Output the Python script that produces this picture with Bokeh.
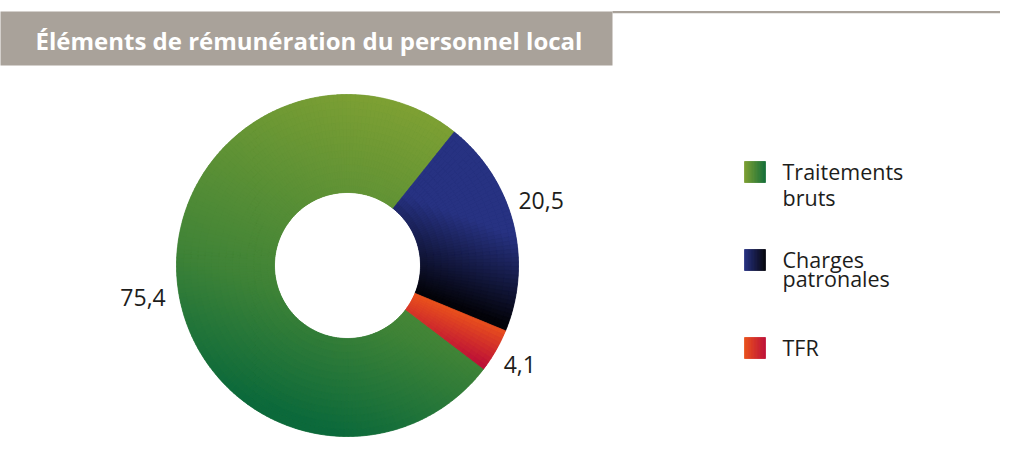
import math
import numpy as np
from bokeh.plotting import figure
from bokeh.models import Range1d, ColumnDataSource
from bokeh.core.properties import value
from bokeh.embed import file_html
from bokeh.resources import INLINE

# ---------------- data ----------------
title = "Éléments de rémunération du personnel local"
categories = ["Traitements bruts", "Charges patronales", "TFR"]
legend_lines = [["Traitements", "bruts"], ["Charges", "patronales"], ["TFR"]]
values = [75.4, 20.5, 4.1]
value_labels = ["75,4", "20,5", "4,1"]

# gradient stops for each slice (position along gradient axis, colour)
grad_stops = [
    [(-56, "#82a233"), (172, "#3f8337"), (287, "#0b693b")],
    [(40, "#273282"), (126, "#030308")],
    [(130, "#ea521c"), (172, "#bc1037")],
]
legend_grad = [("#7fa032", "#17703a"), ("#273284", "#07070f"), ("#ea521c", "#be1238")]

# ---------------- layout ----------------
W, H = 1000, 447


def py(y_page):
    return H - y_page


CX, CY = 347, 265          # pixel coords of donut centre
R_OUT, R_IN = 171, 73
FIRST_ANGLE = 127.2        # degrees clockwise from 12 o'clock
UX, UY = -0.351, 0.936     # gradient axis (pixel coords)
FONT = "Open Sans"
TXT = "#1d1d1b"
GREY = "#a9a29a"
BASE_SHIFT = 8             # renderer draws alphabetic baseline lower
LABEL_NUDGE = [(-4, 7), (-2, -15), (-3, -1)]


def hex2rgb(h):
    h = h.lstrip("#")
    return np.array([int(h[i:i + 2], 16) for i in (0, 2, 4)], dtype=float)


def rgb2hex(c):
    c = np.clip(np.round(c), 0, 255).astype(int)
    return "#%02x%02x%02x" % tuple(c)


def grad_color(stops, t):
    ts = [s[0] for s in stops]
    cs = np.array([hex2rgb(s[1]) for s in stops])
    return rgb2hex([np.interp(t, ts, cs[:, k]) for k in range(3)])


p = figure(width=W, height=H, output_backend="svg", toolbar_location=None,
           x_range=Range1d(0, W), y_range=Range1d(0, H),
           min_border=0, min_border_left=0, min_border_right=0,
           min_border_top=0, min_border_bottom=0)
p.axis.visible = False
p.grid.visible = False
p.outline_line_color = None
p.background_fill_color = "white"
p.border_fill_color = "white"

# ---- header banner and rule ----
p.quad(left=[-2], right=[612], top=[py(11)], bottom=[py(65)],
       fill_color=GREY, line_color=None)
p.quad(left=[612], right=[W + 10], top=[py(10.5)], bottom=[py(12.8)],
       fill_color=GREY, line_color=None)
p.text(x=[35], y=[py(48 - BASE_SHIFT)], text=[title], text_color="white",
       text_font=value(FONT), text_font_style="bold", text_font_size="24px",
       text_baseline="alphabetic", text_align="left")

# ---- donut ----
total = sum(values)
bounds = []
a = FIRST_ANGLE
for v in values:
    span = v / total * 360.0
    bounds.append((a, a + span))
    a += span

cells = dict(x=[], y=[], s=[], e=[], ri=[], ro=[], c=[])
base = dict(x=[], y=[], s=[], e=[], c=[])
N_R = 14
STEP = 1.5
for i, (a0, a1) in enumerate(bounds):
    stops = grad_stops[i]
    base["x"].append(CX)
    base["y"].append(py(CY))
    base["s"].append(math.radians(90 - a0))
    base["e"].append(math.radians(90 - a1))
    base["c"].append(grad_color(stops, (stops[0][0] + stops[-1][0]) / 2))
    n_a = max(1, int(math.ceil((a1 - a0) / STEP)))
    edges = np.linspace(a0, a1, n_a + 1)
    redges = np.linspace(R_IN, R_OUT, N_R + 1)
    for j in range(n_a):
        th = math.radians((edges[j] + edges[j + 1]) / 2)
        for k in range(N_R):
            rm = (redges[k] + redges[k + 1]) / 2
            xp = CX + rm * math.sin(th)
            yp = CY - rm * math.cos(th)
            t = UX * xp + UY * yp
            cells["x"].append(CX)
            cells["y"].append(py(CY))
            cells["s"].append(math.radians(90 - edges[j]))
            cells["e"].append(math.radians(90 - edges[j + 1]))
            cells["ri"].append(redges[k])
            cells["ro"].append(redges[k + 1])
            cells["c"].append(grad_color(stops, t))

p.annular_wedge(x="x", y="y", inner_radius=R_IN, outer_radius=R_OUT,
                start_angle="s", end_angle="e", direction="clock",
                fill_color="c", line_color=None, source=ColumnDataSource(base))
p.annular_wedge(x="x", y="y", inner_radius="ri", outer_radius="ro",
                start_angle="s", end_angle="e", direction="clock",
                fill_color="c", line_color="c", line_width=0.7,
                source=ColumnDataSource(cells))

# ---- value labels ----
R_LAB = 202
lx, ly = [], []
for i, (a0, a1) in enumerate(bounds):
    th = math.radians((a0 + a1) / 2)
    lx.append(CX + R_LAB * math.sin(th) + LABEL_NUDGE[i][0])
    ly.append(py(CY - R_LAB * math.cos(th) + LABEL_NUDGE[i][1]))
p.text(x=lx, y=ly, text=value_labels, text_color=TXT, text_font=value(FONT),
       text_font_size="23px", text_align="center", text_baseline="middle")

# ---- legend ----
SW_X, SW_Y0, SW_SIZE, SW_GAP = 744, 161, 21, 88
LINE_GAPS = [26, 19, 0]
N_STRIP = 14
for i, lines in enumerate(legend_lines):
    top = SW_Y0 + i * SW_GAP
    c0, c1 = legend_grad[i]
    xs = np.linspace(SW_X, SW_X + SW_SIZE, N_STRIP + 1)
    cols = [grad_color([(0, c0), (1, c1)], (k + 0.5) / N_STRIP) for k in range(N_STRIP)]
    p.quad(left=xs[:-1], right=xs[1:], top=[py(top)] * N_STRIP,
           bottom=[py(top + SW_SIZE)] * N_STRIP, fill_color=cols,
           line_color=cols, line_width=0.8)
    for j, ln in enumerate(lines):
        p.text(x=[782], y=[py(top + 18 + j * LINE_GAPS[i] - BASE_SHIFT)], text=[ln],
               text_color=TXT, text_font=value(FONT), text_font_size="21.5px",
               text_align="left", text_baseline="alphabetic")

open("out.html", "w").write(file_html(p, INLINE))
